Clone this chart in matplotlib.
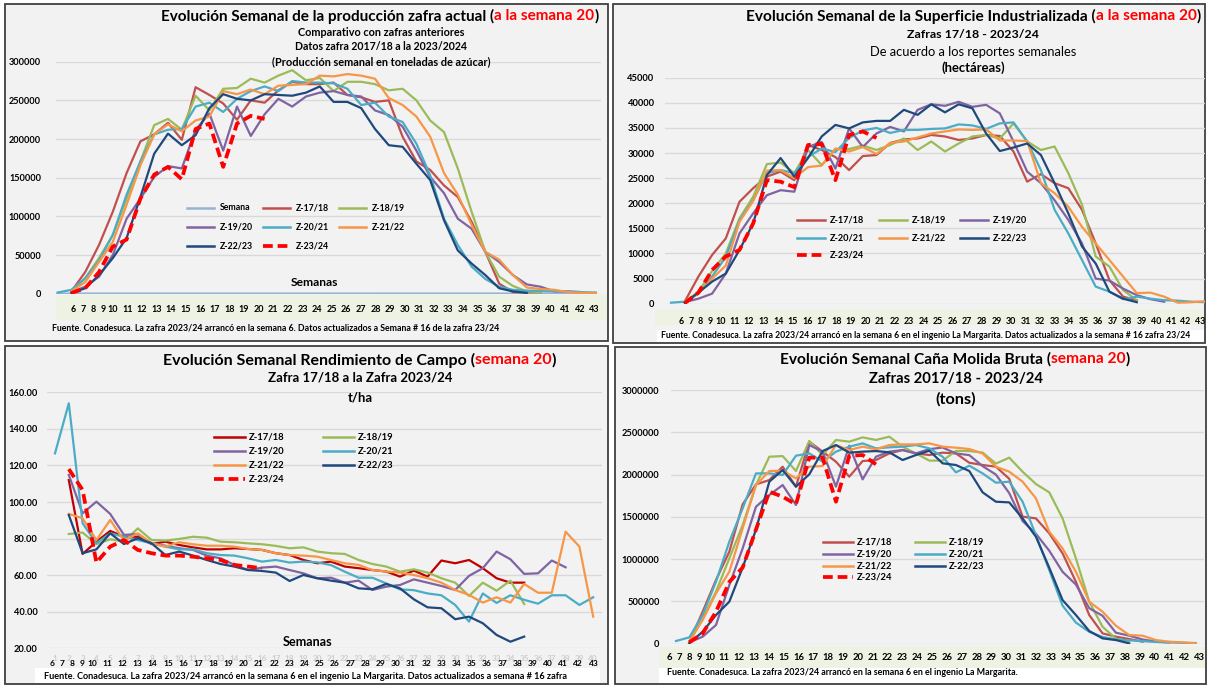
import numpy as np
import matplotlib
matplotlib.use('Agg')
import matplotlib.pyplot as plt
from matplotlib.patches import Rectangle
from matplotlib.lines import Line2D

# ------------------------------------------------------------------ data
weeks = list(range(5, 45))            # 40 weekly categories of every chart
strip_weeks = list(range(6, 44))      # week numbers printed in the strip under the charts
rend_axis_labels = list(range(1, 41)) # faint category labels of the yield chart
names = ['Z-17/18', 'Z-18/19', 'Z-19/20', 'Z-20/21', 'Z-21/22', 'Z-22/23', 'Z-23/24']

# Panel 1: weekly sugar production (thousand t)
prod_semana = weeks
prod_1718 = [3, 28, 63, 106, 156, 197, 206, 221, 199, 267, 257, 246, 225, 250, 247, 263, 274, 271, 271,
             273, 257, 254, 248, 250, 203, 171, 160, 140, 125, 93, 54, 13, 2, 2, 2]
prod_1819 = [3, 20, 46, 76, 123, 171, 218, 226, 212, 256, 237, 265, 266, 278, 273, 282, 289, 276, 279,
             262, 274, 274, 271, 263, 265, 250, 224, 209, 162, 106, 54, 22, 10, 3, 2]
prod_1920 = [2, 9, 22, 50, 97, 123, 151, 165, 162, 212, 233, 185, 242, 204, 232, 252, 242, 255, 260,
             262, 257, 255, 237, 231, 216, 185, 151, 130, 97, 84, 54, 41, 24, 12, 9, 3, 3, 2]
prod_2021 = [1.5, 5, 20, 43, 76, 128, 171, 206, 212, 213, 242, 247, 235, 252, 262, 268, 262, 275, 273, 273,
             272, 265, 244, 247, 229, 222, 194, 153, 97, 63, 35, 19, 9, 5, 4, 3.5, 3, 2.6, 2, 1.5]
prod_2122 = [3, 15, 41, 67, 115, 166, 206, 219, 210, 224, 229, 262, 258, 264, 258, 269, 270, 271, 282,
             281, 284, 282, 278, 253, 244, 229, 203, 156, 128, 89, 54, 44, 24, 8, 6, 5, 2, 1, 1]
prod_2223 = [1, 7, 24, 46, 72, 125, 181, 207, 192, 205, 240, 258, 252, 250, 258, 257, 256, 260, 268,
             248, 248, 240, 213, 192, 190, 168, 147, 95, 56, 39, 24, 7, 3, 1]
prod_2324 = [1, 7, 28, 61, 70, 123, 154, 164, 148, 213, 220, 164, 220, 230, 226]

# Panel 2: industrialised area (ha)
sup_1718 = [400, 5400, 9700, 13000, 20300, 23000, 25300, 26300, 24600, 31600, 30600, 29200, 26600, 29400,
            29600, 32000, 32700, 32900, 33600, 33300, 32600, 32900, 33600, 33400, 30300, 24300, 25800,
            24000, 23000, 18700, 12000, 4700, 1400, 700]
sup_1819 = [300, 2400, 6500, 10000, 17000, 21300, 27800, 28100, 26000, 30600, 27600, 30800, 30800, 31500,
            30600, 31600, 32900, 30600, 32300, 30300, 31900, 33300, 33600, 32900, 35900, 32300, 30600,
            31300, 26000, 19700, 9400, 7400, 2700, 700]
sup_1920 = [300, 1000, 2000, 6000, 14000, 18000, 21600, 22600, 22300, 31200, 32200, 26900, 34900, 31200,
            33900, 35200, 34300, 38600, 39700, 39400, 40200, 39200, 39600, 37900, 32300, 26300, 24000,
            20600, 16700, 12000, 5000, 4600, 3000, 1700, 900, 400]
sup_2021 = [200, 400, 2000, 5400, 9300, 16600, 20600, 26000, 26600, 26000, 29200, 30900, 30200, 33000,
            34500, 35000, 34000, 34600, 34600, 34800, 34900, 35700, 35500, 34800, 35900, 36100, 32300,
            26600, 18700, 14000, 8700, 3400, 2400, 900, 1400, 1000, 700, 600, 400, 300]
sup_2122 = [400, 2000, 5000, 7600, 16300, 20500, 26500, 26600, 25000, 27200, 27500, 30900, 30300, 31200,
            29800, 32000, 32300, 33100, 33900, 34300, 34700, 34600, 34700, 32500, 32500, 32400, 24000,
            22000, 19300, 15300, 12000, 8700, 5400, 2100, 2200, 1400, 200, 300, 500]
sup_2223 = [200, 2200, 4400, 6000, 10700, 16000, 25600, 29000, 25300, 29000, 33300, 35600, 34900, 36100,
            36400, 36400, 38600, 37600, 39700, 38100, 39700, 38900, 33900, 30400, 31100, 31900, 29600,
            24000, 18000, 11400, 8000, 2400, 1000, 300]
sup_2324 = [100, 2200, 6700, 9400, 10700, 16000, 24600, 24300, 23200, 31600, 31800, 24600, 33600, 34300, 33000]

# Panel 3: field yield (t/ha)
rend_1718 = [112, 71.6, 78.3, 84.2, 81, 81, 77, 78.3, 76.5, 75.2, 74.1, 74.1, 74.7, 74.3, 73.8, 72, 71,
             68.3, 66.5, 67.4, 64.7, 63.8, 62.8, 62, 59.2, 62.5, 59.2, 68, 66.5, 68.3, 63.8, 58.3, 55.9, 55.9]
rend_1819 = [82.5, 83.3, 77, 79.6, 78.3, 85.6, 79.2, 78.9, 79.8, 81, 80.5, 78.3, 78, 77.4, 76.9, 76, 74.7,
             75.2, 72.9, 72, 71.6, 68.3, 66.1, 64.7, 61.9, 63.2, 61.4, 58.3, 55.9, 48.6, 55.9, 51.5, 57, 44.2]
rend_1920 = [114.8, 93.8, 100.2, 93.5, 82, 82.5, 77.4, 76.1, 74.7, 73.8, 70.7, 69.2, 65.6, 62.8, 64.1, 64.7,
             62.8, 61, 58.3, 58.6, 55.9, 57, 51.9, 53.7, 54.6, 57.7, 55.9, 54.1, 51.9, 59.6, 63.8, 72.9,
             68.7, 60.7, 61, 68, 64.3]
rend_2021 = [126.6, 154, 88.4, 77.4, 82.9, 81, 79.2, 77.4, 75.6, 74.1, 74.1, 72, 71, 70.7, 69.2, 67.4, 68.3,
             66.9, 67.4, 67, 65.5, 61.9, 58.6, 58.6, 55.5, 52.2, 51.8, 50, 49, 43.7, 34.6, 50, 44.8, 49,
             46.5, 44.4, 49, 49, 43.7, 47.9]
rend_2122 = [93.5, 91.1, 79.2, 90.2, 78.9, 82.9, 77.4, 75.6, 78, 76.9, 76.1, 76.1, 75.6, 74.3, 73.8, 72, 71,
             70.7, 70.1, 68.3, 66.5, 65.6, 62.8, 62, 61.4, 60.1, 58.3, 55.9, 51.9, 49.2, 45, 47.9, 45,
             55.2, 50.4, 50.4, 83.8, 75.6, 37.3]
rend_2223 = [92.9, 72, 74.1, 82.9, 77, 80.2, 77.4, 71, 72.9, 70.7, 68.3, 66.1, 64.7, 62.8, 62.3, 61.4, 56.8,
             60.1, 58.3, 57, 55.9, 52.8, 52.3, 55.2, 52.8, 46.8, 42.4, 41.9, 35.9, 37.3, 33.7, 27.3, 23.6, 26.4]
rend_2324 = [118, 106.6, 66.9, 75.6, 79.2, 73.8, 72, 70.7, 70.7, 70.1, 69.2, 68.3, 65.6, 64.7, 63.8]

# Panel 4: gross ground cane (thousand t)
cana_1718 = [24, 378, 753, 1088, 1648, 1884, 1935, 2093, 1857, 2389, 2271, 2152, 1975, 2160, 2172, 2250,
             2290, 2251, 2231, 2259, 2250, 2140, 2113, 2093, 1950, 1502, 1482, 1305, 1068, 733, 339, 122,
             83, 55, 24]
cana_1819 = [24, 300, 615, 1009, 1403, 1876, 2211, 2219, 2042, 2397, 2231, 2409, 2389, 2440, 2409, 2448,
             2330, 2250, 2165, 2165, 2280, 2278, 2260, 2130, 2200, 2034, 1888, 1790, 1482, 1009, 497, 200,
             60, 30]
cana_1920 = [16, 83, 221, 694, 1127, 1620, 1758, 1876, 1640, 2349, 2271, 1857, 2342, 1943, 2211, 2271,
             2290, 2251, 2300, 2320, 2250, 2230, 2100, 2000, 1780, 1450, 1300, 1100, 850, 700, 420, 330,
             130, 95, 50, 25, 15]
cana_2021 = [32, 75, 339, 733, 1206, 1600, 2014, 2014, 1995, 2223, 2251, 2152, 2271, 2330, 2369, 2310,
             2322, 2330, 2349, 2310, 2211, 2026, 2105, 2014, 1904, 1916, 1679, 1285, 871, 450, 250, 140,
             80, 50, 40, 30, 20, 15, 10, 8]
cana_2122 = [24, 280, 595, 851, 1364, 1876, 2042, 2046, 1955, 2093, 2101, 2349, 2290, 2330, 2298, 2349,
             2357, 2357, 2369, 2330, 2318, 2302, 2251, 2093, 2034, 1916, 1719, 1325, 1127, 851, 497, 378,
             213, 102, 95, 43, 24, 16, 4]
cana_2223 = [4, 142, 339, 497, 900, 1350, 1916, 2054, 1857, 2003, 2278, 2349, 2259, 2271, 2278, 2263,
             2172, 2231, 2282, 2133, 2113, 2042, 1790, 1679, 1671, 1482, 1265, 899, 516, 339, 150, 63, 43, 4]
cana_2324 = [16, 122, 378, 730, 900, 1350, 1798, 1738, 1648, 2200, 2200, 1679, 2223, 2231, 2121]

# first week of each season's series (Z-20/21 has an extra point at week 5)
start_weeks = [6, 6, 6, 5, 6, 6, 6]

# ------------------------------------------------------------------ styling
C1718 = '#C0504D'; C1718_P3 = '#C00000'
C1819 = '#9BBB59'; C1920 = '#8064A2'; C2021 = '#4BACC6'
C2122 = '#F79646'; C2223 = '#1F497D'; C2324 = '#FF0000'; CSEM = '#95B3D7'
RED = '#FF0000'

W, H = 1207, 685
plt.rcParams['font.family'] = ['Lato', 'DejaVu Sans']
fig = plt.figure(figsize=(W / 100, H / 100), dpi=100)
fig.patch.set_facecolor('white')
R = fig.canvas.get_renderer()


def fx(px):
    return px / W


def fy(py):
    return 1 - py / H


def rect(x0, y0, x1, y1, face, edge='none', lw=0, z=-5):
    fig.add_artist(Rectangle((fx(x0), fy(y1)), fx(x1) - fx(x0), fy(y0) - fy(y1),
                             transform=fig.transFigure, facecolor=face, edgecolor=edge,
                             lw=lw, zorder=z))


def text_w(s, fs, weight='bold'):
    t = fig.text(0, 0, s, fontsize=fs, fontweight=weight)
    w = t.get_window_extent(R).width
    t.remove()
    return w


def size_for(s, width, weight='bold', size0=10):
    return size0 * width / text_w(s, size0, weight)


def fit(x, y, s, width, ha='center', weight='bold', color='black', z=10):
    fs = size_for(s, width, weight)
    return fig.text(fx(x), fy(y), s, ha=ha, va='center', fontsize=fs, fontweight=weight,
                    color=color, zorder=z)


def title_parts(x_left, y, parts, width):
    whole = ''.join(s for s, _ in parts)
    fs = size_for(whole, width)
    prefix = ''
    for s, c in parts:
        off = (text_w(prefix + s, fs) - text_w(s, fs)) if prefix else 0.0
        fig.text(fx(x_left + off), fy(y), s, ha='left', va='center', fontsize=fs,
                 fontweight='bold', color=c, zorder=10)
        prefix += s


def full(values, start):
    out = [np.nan] * len(weeks)
    i0 = weeks.index(start)
    for j, v in enumerate(values):
        out[i0 + j] = v
    return np.array(out, float)


def make_axes(l, r, t, b, i0_px, step_px, ylim, yticks, ylabels, lab_w_txt, lab_w, pad_px):
    ax = fig.add_axes([fx(l), fy(b), fx(r) - fx(l), fy(t) - fy(b)])
    ax.set_facecolor('none')
    ax.set_xlim(weeks[0] + (l - i0_px) / step_px, weeks[0] + (r - i0_px) / step_px)
    ax.set_ylim(*ylim)
    for s in ax.spines.values():
        s.set_visible(False)
    ax.set_yticks(yticks)
    fs = size_for(lab_w_txt, lab_w)
    ax.set_yticklabels(ylabels, fontsize=fs, fontweight='bold')
    ax.tick_params(axis='y', length=0, pad=pad_px * 0.72)
    ax.tick_params(axis='x', length=0, labelbottom=False)
    ax.yaxis.grid(True, color='#D9D9D9', lw=1.0)
    ax.set_axisbelow(True)
    return ax


def draw_series(ax, vals_list, colors, lw=1.6):
    for vals, start, c, nm in zip(vals_list, start_weeks, colors, names):
        y = full(vals, start)
        if nm == 'Z-23/24':
            ax.plot(weeks, y, color=c, lw=2.7, dashes=(2.6, 1.3), zorder=6)
        else:
            ax.plot(weeks, y, color=c, lw=lw, solid_joinstyle='round', zorder=4)


def legend(entries, col_x, row_y, line_len, gap, tw):
    fs = size_for('Z-17/18', tw)
    nc = len(col_x)
    for k, (nm, c) in enumerate(entries):
        r, cc = divmod(k, nc)
        x0, y = col_x[cc], row_y[r]
        if nm == 'Z-23/24':
            ln = Line2D([fx(x0), fx(x0 + line_len)], [fy(y), fy(y)], transform=fig.transFigure,
                        color=c, lw=2.7, dashes=(2.6, 1.3), zorder=10)
        else:
            ln = Line2D([fx(x0), fx(x0 + line_len)], [fy(y), fy(y)], transform=fig.transFigure,
                        color=c, lw=1.8, zorder=10)
        fig.add_artist(ln)
        fig.text(fx(x0 + line_len + gap), fy(y), nm, ha='left', va='center', fontsize=fs,
                 fontweight='bold', zorder=10)


def strip_labels(p6, p10, p11, p43, y, w43, color='black'):
    fs = size_for('43', w43)
    for k in strip_weeks:
        if k <= 10:
            x = p6 + (k - 6) * (p10 - p6) / 4
        else:
            x = p11 + (k - 11) * (p43 - p11) / 32
        fig.text(fx(x), fy(y), str(k), ha='center', va='center', fontsize=fs, fontweight='bold',
                 color=color, zorder=10)


# ------------------------------------------------------------------ panels / frames
rect(5, 4, 608, 341, '#F2F2F2', '#404040', 1.3)
rect(613, 4, 1205, 343, '#F2F2F2', '#404040', 1.3)
rect(5, 346, 608, 684, '#F2F2F2', '#404040', 1.3)
rect(615, 347, 1206, 684, '#F2F2F2', '#404040', 1.3)
STRIP = '#EDF2E3'
rect(56, 295, 607, 320, STRIP, z=-4)
rect(655, 310, 1204, 325, STRIP, z=-4)
rect(659, 647, 1205, 668, STRIP, z=-4)
rect(657, 330, 1204, 342, 'white', z=-4)
rect(35, 668, 600, 683, 'white', z=-4)
rect(659, 668, 1205, 683, 'white', z=-4)

# ------------------------------------------------------------------ panel 1
ax1 = make_axes(56, 601, 61.7, 293.7, 57.6, 13.8, (0, 300000), list(range(0, 300001, 50000)),
                [str(v) for v in range(0, 300001, 50000)], '300000', 32, 15)
ax1.plot(weeks, prod_semana, color=CSEM, lw=1.8, zorder=3)
draw_series(ax1, [np.array(v) * 1000 for v in
                  [prod_1718, prod_1819, prod_1920, prod_2021, prod_2122, prod_2223, prod_2324]],
            [C1718, C1819, C1920, C2021, C2122, C2223, C2324])
title_parts(161, 16, [('Evolución Semanal de la producción zafra actual (', 'black'),
                      ('a la semana 20', RED), (')', 'black')], 440)
fit(381, 33, 'Comparativo con zafras anteriores', 167)
fit(381.5, 47, 'Datos zafra 2017/18 a la 2023/2024', 173)
fit(381, 62, '(Producción semanal en toneladas de azúcar)', 219)
fit(314, 283, 'Semanas', 47.5)
fit(52.5, 328, 'Fuente. Conadesuca. La zafra 2023/24 arrancó en la semana 6. Datos actualizados a '
    'Semana # 16 de la zafra 23/24', 444.5, ha='left')
strip_labels(73.5, 112.8, 127.2, 594.4, 309, 10.5)
legend([('Semana', CSEM), ('Z-17/18', C1718), ('Z-18/19', C1819),
        ('Z-19/20', C1920), ('Z-20/21', C2021), ('Z-21/22', C2122),
        ('Z-22/23', C2223), ('Z-23/24', C2324)],
       [187, 263, 338.5], [207.7, 226.7, 245.7], 27, 6, 33)

# ------------------------------------------------------------------ panel 2
ax2 = make_axes(665, 1205, 77.7, 303.7, 671, 13.7, (0, 45000), list(range(0, 45001, 5000)),
                [str(v) for v in range(0, 45001, 5000)], '45000', 27.4, 10.5)
draw_series(ax2, [sup_1718, sup_1819, sup_1920, sup_2021, sup_2122, sup_2223, sup_2324],
            [C1718, C1819, C1920, C2021, C2122, C2223, C2324])
title_parts(746, 16, [('Evolución Semanal de la Superficie Industrializada (', 'black'),
                      ('a la semana 20', RED), (')', 'black')], 453)
fit(973, 34, 'Zafras 17/18 - 2023/24', 132)
fit(973, 52, 'De acuerdo a los reportes semanales', 208.7, weight='normal')
fit(973, 68, '(hectáreas)', 63.6)
fit(661, 335.5, 'Fuente. Conadesuca. La zafra 2023/24 arrancó en la semana 6 en el ingenio La Margarita. '
    'Datos actualizados a la semana # 16 zafra 23/24', 533, ha='left')
strip_labels(681, 720.4, 734.5, 1200, 321, 10.3)
legend([('Z-17/18', C1718), ('Z-18/19', C1819), ('Z-19/20', C1920),
        ('Z-20/21', C2021), ('Z-21/22', C2122), ('Z-22/23', C2223), ('Z-23/24', C2324)],
       [796.6, 878.5, 959.6], [220, 237.7, 255], 28.5, 5, 34)

# ------------------------------------------------------------------ panel 3
ax3 = make_axes(47, 602, 392.3, 648.3, 55, 13.8, (20, 160), list(range(20, 161, 20)),
                ['%.2f' % v for v in range(20, 161, 20)], '160.00', 29, 9.3)
draw_series(ax3, [rend_1718, rend_1819, rend_1920, rend_2021, rend_2122, rend_2223, rend_2324],
            [C1718_P3, C1819, C1920, C2021, C2122, C2223, C2324])
ax3.set_xticks(weeks)
ax3.set_xticklabels([str(k) for k in rend_axis_labels], fontsize=size_for('40', 9.5),
                    fontweight='bold', color='#CDCDCD')
ax3.tick_params(axis='x', length=0, labelbottom=True, pad=5.0)
title_parts(163, 360, [('Evolución Semanal Rendimiento de Campo (', 'black'),
                       ('semana 20', RED), (')', 'black')], 394)
fit(360, 378, 'Zafra 17/18 a la Zafra 2023/24', 183.7)
fit(360, 397, 't/ha', 25)
fit(308, 642, 'Semanas', 49.8)
fit(43.6, 676.5, 'Fuente. Conadesuca. La zafra 2023/24 arrancó en la semana 6 en el ingenio La Margarita. '
    'Datos actualizados a semana # 16 zafra', 521.4, ha='left')
strip_labels(51.8, 92.2, 107, 593.4, 663, 9.7)
legend([('Z-17/18', C1718_P3), ('Z-18/19', C1819), ('Z-19/20', C1920), ('Z-20/21', C2021),
        ('Z-21/22', C2122), ('Z-22/23', C2223), ('Z-23/24', C2324)],
       [214, 323], [436.7, 450.7, 464.7, 478.7], 31, 4, 35.8)

# ------------------------------------------------------------------ panel 4
ax4 = make_axes(671, 1204, 390, 643.7, 676, 13.33, (0, 3000000), list(range(0, 3000001, 500000)),
                [str(v) for v in range(0, 3000001, 500000)], '3000000', 38, 11.5)
draw_series(ax4, [np.array(v) * 1000 for v in
                  [cana_1718, cana_1819, cana_1920, cana_2021, cana_2122, cana_2223, cana_2324]],
            [C1718, C1819, C1920, C2021, C2122, C2223, C2324])
title_parts(780, 359, [('Evolución Semanal Caña Molida Bruta (', 'black'),
                       ('semana 20', RED), (')', 'black')], 351)
fit(956, 379, 'Zafras 2017/18 - 2023/24', 174)
fit(956, 399, '(tons)', 40.7)
fit(667, 672.7, 'Fuente. Conadesuca. La zafra 2023/24 arrancó en la semana 6 en el ingenio La Margarita.',
    353, ha='left')
strip_labels(669.8, 709.8, 724.2, 1199.5, 657, 11)
legend([('Z-17/18', C1718), ('Z-18/19', C1819), ('Z-19/20', C1920), ('Z-20/21', C2021),
        ('Z-21/22', C2122), ('Z-22/23', C2223), ('Z-23/24', C2324)],
       [823, 914.6], [541.7, 553.7, 565.7, 577.3], 30, 4, 35)

fig.savefig('out.png', dpi=100, facecolor='white')
